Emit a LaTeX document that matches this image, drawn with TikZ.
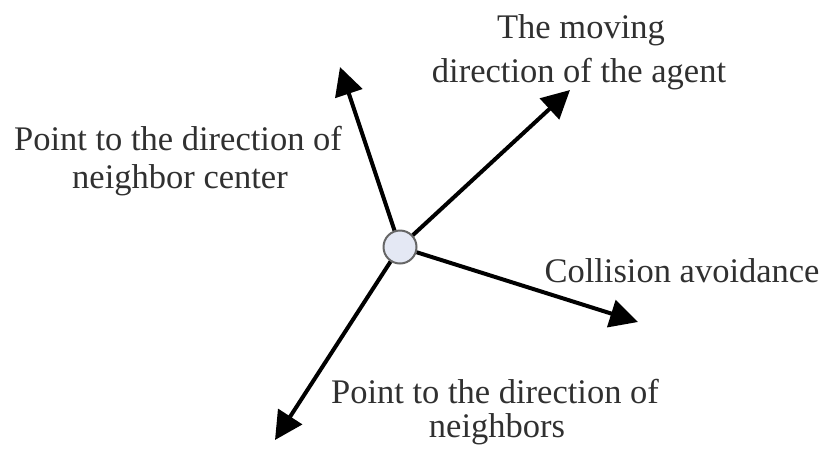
\documentclass[tikz,border=0pt]{standalone}
\usepackage{fontspec}
\setmainfont{Liberation Serif}
\usetikzlibrary{arrows.meta}
\definecolor{agentfill}{HTML}{E4E8F4}
\definecolor{txt}{HTML}{303030}
\begin{document}
\begin{tikzpicture}[x=1pt,y=-1pt,
  lbl/.style={anchor=base,inner sep=0pt,text=txt,font=\fontsize{34.5}{44}\selectfont},
  vec/.style={line width=4pt,-{Triangle[length=28pt,width=28pt]}},
  agent/.style={circle,draw=black!60,line width=2pt,fill=agentfill,minimum size=33pt,inner sep=0pt}]
\useasboundingbox (0,0) rectangle (824,456);
\node[agent] (c) at (400,247) {};
\coordinate (tUL) at (340,67);
\coordinate (tUR) at (570,90);
\coordinate (tR) at (638,322);
\coordinate (tDL) at (275,440);
\draw[vec] (c) -- (tUL);
\draw[vec] (c) -- (tUR);
\draw[vec] (c) -- (tR);
\draw[vec] (c) -- (tDL);
\node[lbl] (m1) at (581,38) {The moving};
\node[lbl] (m2) at (579,82) {direction of the agent};
\node[lbl] (n1) at (178,150) {Point to the direction of};
\node[lbl] (n2) at (180,188) {neighbor center};
\node[lbl] (ca) at (682,282) {Collision avoidance};
\node[lbl] (p1) at (495,403) {Point to the direction of};
\node[lbl] (p2) at (497,437) {neighbors};
\end{tikzpicture}
\end{document}
